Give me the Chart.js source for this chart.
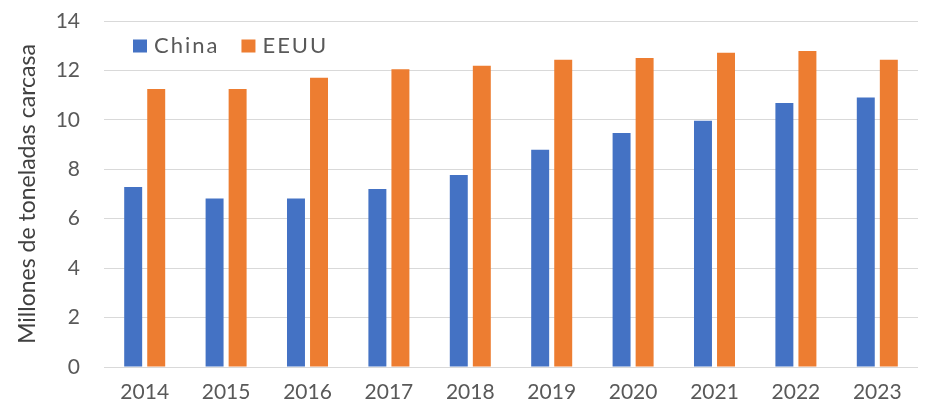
<!DOCTYPE html>
<html>
<head>
<meta charset="utf-8">
<script src="https://cdn.jsdelivr.net/npm/chart.js@4/dist/chart.umd.min.js"></script>
<style>
  html, body { margin: 0; padding: 0; background: #ffffff; }
  #wrap { width: 927px; height: 405px; }
</style>
</head>
<body>
<div id="wrap"><canvas id="c" width="927" height="405"></canvas></div>
<script>
const categories = ['2014', '2015', '2016', '2017', '2018', '2019', '2020', '2021', '2022', '2023'];
const seriesNames = ['China', 'EEUU'];
const chinaValues = [7.28, 6.82, 6.82, 7.2, 7.77, 8.79, 9.47, 9.96, 10.68, 10.9];
const eeuuValues = [11.25, 11.25, 11.7, 12.05, 12.19, 12.43, 12.5, 12.72, 12.79, 12.43];
const yTickValues = [0, 2, 4, 6, 8, 10, 12, 14];
const yAxisTitle = 'Millones de toneladas carcasa';

const FONT = 'Lato, "Open Sans", sans-serif';

const insideLegend = {
  id: 'insideLegend',
  afterDraw(chart) {
    const ctx = chart.ctx;
    const area = chart.chartArea;
    ctx.save();
    ctx.font = '22px ' + FONT;
    ctx.letterSpacing = '2px';
    ctx.textBaseline = 'middle';
    ctx.textAlign = 'left';
    let x = area.left + 29;
    const cy = area.top + 25;
    chart.data.datasets.forEach(ds => {
      ctx.fillStyle = ds.backgroundColor;
      ctx.fillRect(x, cy - 6.5, 14, 13);
      ctx.fillStyle = '#595959';
      const tx = x + 21;
      ctx.fillText(ds.label, tx, cy);
      x = tx + ctx.measureText(ds.label).width + 22;
    });
    ctx.restore();
  }
};

new Chart(document.getElementById('c'), {
  type: 'bar',
  data: {
    labels: categories,
    datasets: [
      { label: seriesNames[0], data: chinaValues, backgroundColor: '#4472C4', categoryPercentage: 0.566, barPercentage: 0.78 },
      { label: seriesNames[1], data: eeuuValues, backgroundColor: '#ED7D31', categoryPercentage: 0.566, barPercentage: 0.78 }
    ]
  },
  options: {
    responsive: false,
    animation: false,
    layout: { padding: { left: 0, right: 9, top: 21, bottom: 0 } },
    plugins: {
      legend: { display: false },
      tooltip: { enabled: false }
    },
    scales: {
      x: {
        grid: { display: false, drawTicks: false },
        border: { display: false },
        ticks: { color: '#595959', font: { family: FONT, size: 21 }, padding: 13, maxRotation: 0 },
        afterFit(scale) { scale.height = 38; scale.paddingLeft = 0; scale.paddingRight = 0; }
      },
      y: {
        min: 0,
        max: 14,
        afterBuildTicks(scale) { scale.ticks = yTickValues.map(v => ({ value: v })); },
        grid: { color: '#d9d9d9', lineWidth: 1, drawTicks: false },
        border: { display: false },
        ticks: { color: '#595959', font: { family: FONT, size: 21 }, padding: 24 },
        title: {
          display: true,
          text: yAxisTitle,
          color: '#404040',
          font: { family: FONT, size: 23 },
          padding: { top: 14, bottom: 0 }
        },
        afterFit(scale) { scale.width = 104; scale.paddingTop = 0; scale.paddingBottom = 0; }
      }
    }
  },
  plugins: [insideLegend]
});
</script>
</body>
</html>
